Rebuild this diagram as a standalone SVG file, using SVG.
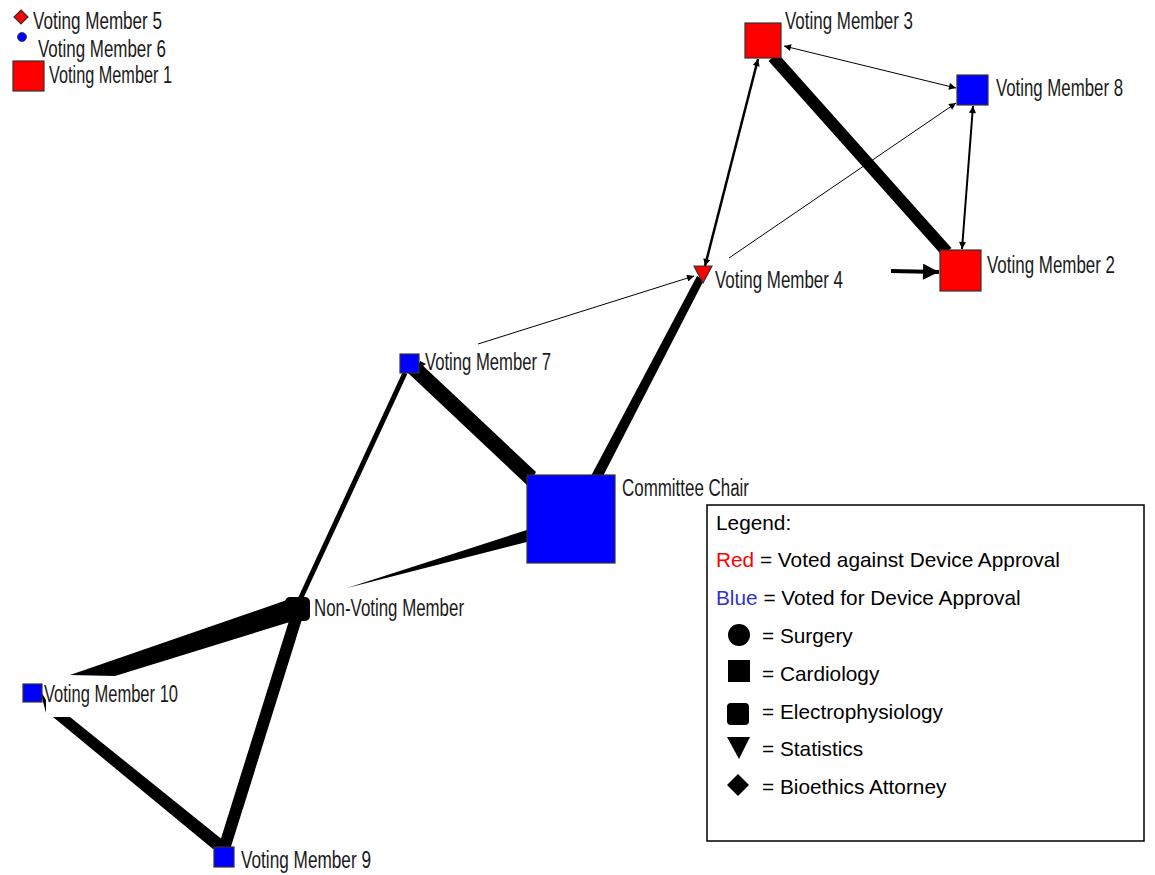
<svg xmlns="http://www.w3.org/2000/svg" width="1155" height="875" viewBox="0 0 1155 875">
<defs>
<style>
.lbl{font-family:"Liberation Sans",Arial,sans-serif;font-size:23px;fill:#1a1a1a;}
.leg{font-family:"Liberation Sans",Arial,sans-serif;font-size:20.8px;fill:#000;}
.nd{stroke:#333;stroke-width:1.2;}
.red{fill:#ff0000;}
.blue{fill:#0000ff;}
.e{stroke:#000;fill:none;}
</style>
<marker id="ah" viewBox="0 0 10 10" refX="10" refY="5" markerWidth="10" markerHeight="7" markerUnits="userSpaceOnUse" orient="auto-start-reverse">
<path d="M0,0 L10,5 L0,10 z" fill="#000"/>
</marker>
<marker id="ahs" viewBox="0 0 10 10" refX="10" refY="5" markerWidth="5" markerHeight="4" markerUnits="strokeWidth" orient="auto">
<path d="M0,0 L10,5 L0,10 z" fill="#000"/>
</marker>
</defs>
<rect width="1155" height="875" fill="#fff"/>
<g id="connectors">
<line class="e" x1="784" y1="46" x2="956" y2="88" stroke-width="1" marker-start="url(#ah)" marker-end="url(#ah)"/>
<line class="e" x1="973" y1="106" x2="962" y2="249" stroke-width="2" marker-start="url(#ah)" marker-end="url(#ah)"/>
<line class="e" x1="758" y1="59" x2="705" y2="266" stroke-width="2.5" marker-start="url(#ah)" marker-end="url(#ah)"/>
<line class="e" x1="729" y1="258" x2="956" y2="103" stroke-width="1" marker-end="url(#ah)"/>
<line class="e" x1="478" y1="344" x2="694" y2="276" stroke-width="1" marker-end="url(#ah)"/>
<line class="e" x1="773" y1="57" x2="947" y2="252" stroke-width="12"/>
<line class="e" x1="891" y1="271" x2="939" y2="272" stroke-width="4" marker-end="url(#ahs)"/>
<polygon points="591,476 601,480 704,280 697,276" fill="#000"/>
<polygon points="407,372 418,361 536,472 528,486" fill="#000"/>
<line class="e" x1="405" y1="373" x2="297" y2="606" stroke-width="5"/>
<polygon points="527,530 527,542 347,588" fill="#000"/>
<polygon points="70,675 287,600 293,621 115,676" fill="#000"/>
<polygon points="53,717 70,717 234,849 213,849" fill="#000"/>
<polygon points="40,690 46,700 46,713" fill="#000"/>
<line class="e" x1="298" y1="612" x2="224" y2="849" stroke-width="12"/>
<polygon points="420,361 426,364 420,368" fill="#000"/>
</g>
<g id="vm5"><polygon class="nd red" points="21,10 28,17 21,24 14,17"/><text class="lbl" x="33" y="29" textLength="129" lengthAdjust="spacingAndGlyphs">Voting Member 5</text></g>
<g id="vm6"><circle class="blue" cx="22" cy="37" r="4.5" stroke="#333" stroke-width="0.8"/><text class="lbl" x="38" y="57" textLength="128" lengthAdjust="spacingAndGlyphs">Voting Member 6</text></g>
<g id="vm1"><rect class="nd red" x="13" y="61" width="31" height="30"/><text class="lbl" x="49" y="83" textLength="123" lengthAdjust="spacingAndGlyphs">Voting Member 1</text></g>
<g id="vm3"><rect class="nd red" x="745" y="23" width="36" height="35"/><text class="lbl" x="785" y="29" textLength="128" lengthAdjust="spacingAndGlyphs">Voting Member 3</text></g>
<g id="vm8"><rect class="nd blue" x="957" y="75" width="31" height="30"/><text class="lbl" x="996" y="96" textLength="127" lengthAdjust="spacingAndGlyphs">Voting Member 8</text></g>
<g id="vm2"><rect class="nd red" x="940" y="250" width="41" height="41"/><text class="lbl" x="987" y="273" textLength="128" lengthAdjust="spacingAndGlyphs">Voting Member 2</text></g>
<g id="vm4"><polygon class="nd red" points="694,266 712,266 703,283"/><text class="lbl" x="715" y="288" textLength="128" lengthAdjust="spacingAndGlyphs">Voting Member 4</text></g>
<g id="vm7"><rect class="nd blue" x="400" y="354" width="19" height="19"/><text class="lbl" x="425" y="370" textLength="126" lengthAdjust="spacingAndGlyphs">Voting Member 7</text></g>
<g id="chair"><rect class="nd blue" x="527" y="475" width="88" height="88"/><text class="lbl" x="622" y="496" textLength="127" lengthAdjust="spacingAndGlyphs">Committee Chair</text></g>
<g id="nonvoting"><rect x="285" y="597" width="25" height="24" rx="5" fill="#000"/><text class="lbl" x="314" y="616" textLength="150" lengthAdjust="spacingAndGlyphs">Non-Voting Member</text></g>
<g id="vm10"><rect class="nd blue" x="23" y="684" width="19" height="18"/><text class="lbl" x="44" y="702" textLength="134" lengthAdjust="spacingAndGlyphs">Voting Member 10</text></g>
<g id="vm9"><rect class="nd blue" x="214" y="847" width="20" height="20"/><text class="lbl" x="241" y="868" textLength="130" lengthAdjust="spacingAndGlyphs">Voting Member 9</text></g>
<g id="legend">
<rect x="707" y="505" width="437" height="336" fill="#fff" stroke="#000" stroke-width="1.5"/>
<text class="leg" x="716" y="530">Legend:</text>
<text class="leg" x="716" y="567"><tspan fill="#ff0000">Red</tspan> = Voted against Device Approval</text>
<text class="leg" x="716" y="605"><tspan fill="#3333cc">Blue</tspan> = Voted for Device Approval</text>
<circle cx="739" cy="635" r="11" fill="#000"/>
<text class="leg" x="762" y="643">= Surgery</text>
<rect x="728" y="660" width="22" height="22" fill="#000"/>
<text class="leg" x="762" y="681">= Cardiology</text>
<rect x="727" y="703" width="22" height="22" rx="4" fill="#000"/>
<text class="leg" x="762" y="719">= Electrophysiology</text>
<polygon points="727,737 750,737 739,759" fill="#000"/>
<text class="leg" x="762" y="756">= Statistics</text>
<polygon points="738,774 749,785 738,796 727,785" fill="#000"/>
<text class="leg" x="762" y="794">= Bioethics Attorney</text>
</g>
</svg>
